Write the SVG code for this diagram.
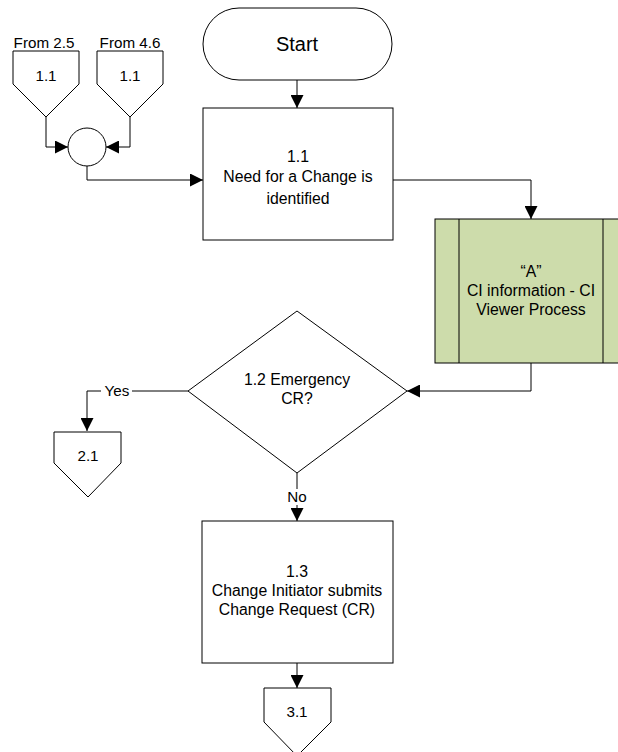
<svg xmlns="http://www.w3.org/2000/svg" width="618" height="752" viewBox="0 0 618 752">
  <style>
    .shape { fill: #ffffff; stroke: #000000; stroke-width: 1; }
    .sub { fill: #cddcab; stroke: #000000; stroke-width: 1; }
    .edge { fill: none; stroke: #000000; stroke-width: 1; }
    text { font-family: "Liberation Sans", Arial, sans-serif; fill: #000000; text-anchor: middle; }
    .t { font-size: 15.8px; }
    .s { font-size: 15.2px; }
    .big { font-size: 20px; }
  </style>
  <defs>
    <marker id="arrow" viewBox="0 0 10 10" refX="10" refY="5" markerWidth="13" markerHeight="13" markerUnits="userSpaceOnUse" orient="auto">
      <path d="M0,0 L10,5 L0,10 z" fill="#000000"/>
    </marker>
  </defs>

  <rect width="618" height="752" fill="#ffffff"/>

  <!-- connectors -->
  <g id="connectors">
    <path class="edge" d="M46,117 V147 H68" marker-end="url(#arrow)"/>
    <path class="edge" d="M130,117 V147 H106" marker-end="url(#arrow)"/>
    <path class="edge" d="M87,166 V180 H203" marker-end="url(#arrow)"/>
    <path class="edge" d="M297,80 V108" marker-end="url(#arrow)"/>
    <path class="edge" d="M393,180 H531 V219" marker-end="url(#arrow)"/>
    <path class="edge" d="M531,363 V391 H407" marker-end="url(#arrow)"/>
    <path class="edge" d="M188,391 H87 V431" marker-end="url(#arrow)"/>
    <path class="edge" d="M297,473 V521" marker-end="url(#arrow)"/>
    <path class="edge" d="M297,663 V688" marker-end="url(#arrow)"/>
    <rect x="101" y="382" width="31" height="17" fill="#ffffff"/>
    <text class="s" x="117" y="396">Yes</text>
    <rect x="285" y="489" width="24" height="16" fill="#ffffff"/>
    <text class="s" x="297" y="502">No</text>
  </g>

  <!-- off-page inputs -->
  <g id="from-2-5">
    <text class="s" x="44" y="48">From 2.5</text>
    <path class="shape" d="M13,51 H79 V84 L46,117 L13,84 Z"/>
    <text class="s" x="46" y="81">1.1</text>
  </g>
  <g id="from-4-6">
    <text class="s" x="130" y="48">From 4.6</text>
    <path class="shape" d="M97,51 H163 V84 L130,117 L97,84 Z"/>
    <text class="s" x="130" y="81">1.1</text>
  </g>
  <g id="merge">
    <circle class="shape" cx="87" cy="147" r="19"/>
  </g>

  <g id="start">
    <rect class="shape" x="203" y="8" width="189" height="72" rx="36" ry="36"/>
    <text class="big" x="297" y="51">Start</text>
  </g>

  <g id="step-1-1">
    <rect class="shape" x="203" y="108" width="190" height="132"/>
    <text class="t" x="298" y="162">1.1</text>
    <text class="t" x="298" y="182">Need for a Change is</text>
    <text class="t" x="298" y="204">identified</text>
  </g>

  <g id="process-a">
    <rect class="sub" x="435" y="219" width="192" height="144"/>
    <line class="edge" x1="459" y1="219" x2="459" y2="363"/>
    <line class="edge" x1="603" y1="219" x2="603" y2="363"/>
    <text class="t" x="531" y="277">“A”</text>
    <text class="t" x="531" y="296">CI information - CI</text>
    <text class="t" x="531" y="315">Viewer Process</text>
  </g>

  <g id="decision-1-2">
    <path class="shape" d="M297,311 L407,391 L297,473 L188,391 Z"/>
    <text class="t" x="297" y="385">1.2 Emergency</text>
    <text class="t" x="297" y="404">CR?</text>
  </g>

  <g id="to-2-1">
    <path class="shape" d="M54,432 H121 V463 L88,497 L54,463 Z"/>
    <text class="s" x="88" y="461">2.1</text>
  </g>

  <g id="step-1-3">
    <rect class="shape" x="202" y="521" width="191" height="142"/>
    <text class="t" x="297" y="577">1.3</text>
    <text class="t" x="297" y="596">Change Initiator submits</text>
    <text class="t" x="297" y="615">Change Request (CR)</text>
  </g>

  <g id="to-3-1">
    <path class="shape" d="M264,688 H331 V722 L297,756 L264,722 Z"/>
    <text class="s" x="297" y="717">3.1</text>
  </g>
</svg>
